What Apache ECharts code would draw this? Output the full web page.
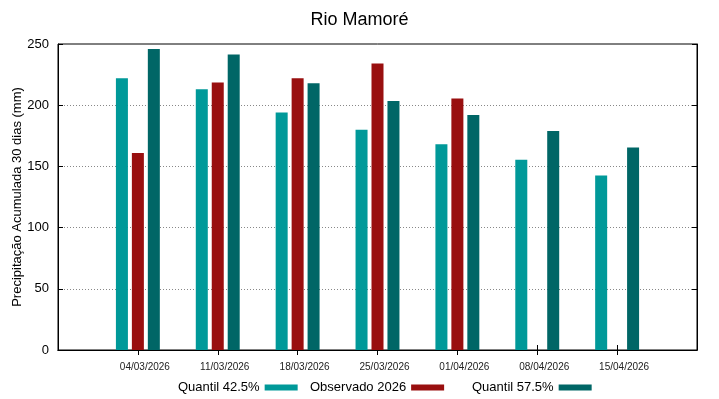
<!DOCTYPE html>
<html>
<head>
<meta charset="utf-8">
<script src="https://cdn.jsdelivr.net/npm/echarts@6/dist/echarts.min.js"></script>
<style>
  html, body { margin: 0; padding: 0; background: #fff; }
  #chart { width: 719px; height: 399px; }
</style>
</head>
<body>
<div id="chart"></div>
<script>
// datas das semanas
const dates = ['04/03/2026', '11/03/2026', '18/03/2026', '25/03/2026', '01/04/2026', '08/04/2026', '15/04/2026']
const q425 = [222, 213, 194, 180, 168, 155.5, 142.5]
const obs2026 = [161, 218.5, 222, 234, 205.5, null, null]
const q575 = [246, 241.5, 218, 203.5, 192, 179, 165.5]
const yTicks = [0, 50, 100, 150, 200, 250]
const yTitle = 'Precipitação Acumulada 30 dias (mm)'

// eixo com uma posição vazia em cada ponta (igual ao gnuplot)
const axisData = [''].concat(dates, [''])
const pad = arr => [null].concat(arr, [null])
const innerTick = (i) => i > 0 && i < axisData.length - 1

const font = 'Liberation Sans, Arial, sans-serif'
const colors = ['#009999', '#990f0f', '#006666']

const myChart = echarts.init(document.getElementById('chart'))

const barStyle = (c) => ({
  type: 'bar',
  barWidth: 12,
  barGap: '33%',
  itemStyle: { color: c },
  emphasis: { disabled: true }
})

const legendItem = (name, left) => ({
  data: [name],
  left: left,
  top: 381,
  align: 'right',
  itemWidth: 33,
  itemHeight: 6,
  icon: 'rect',
  itemGap: 0,
  padding: 0,
  textStyle: { fontFamily: font, fontSize: 13, color: '#000' }
})

const option = {
  animation: false,
  title: {
    text: 'Rio Mamoré',
    left: 'center',
    top: 6,
    textStyle: { fontFamily: font, fontSize: 18, fontWeight: 'normal', color: '#000' }
  },
  legend: [
    legendItem('Quantil 42.5%', 178),
    legendItem('Observado 2026', 310),
    legendItem('Quantil 57.5%', 472)
  ],
  // titulo do eixo y
  graphic: [{
    type: 'text',
    x: 17,
    y: 197,
    rotation: Math.PI / 2,
    style: {
      text: yTitle,
      textAlign: 'center',
      textVerticalAlign: 'middle',
      fontFamily: font,
      fontSize: 13,
      fill: '#000'
    }
  }],
  grid: {
    left: 58, right: 22, top: 44, bottom: 49,
    outerBoundsMode: 'none',
    show: true, borderColor: '#000', borderWidth: 1
  },
  xAxis: [
    {
      type: 'category',
      data: axisData,
      boundaryGap: false,
      axisLine: { lineStyle: { color: '#000' } },
      axisTick: { inside: true, length: 5, lineStyle: { color: '#000' }, interval: innerTick },
      axisLabel: { interval: 0, fontFamily: font, fontSize: 10, color: '#222', margin: 12, padding: [0, 0, 0, 14] }
    },
    {
      type: 'category',
      data: axisData,
      boundaryGap: false,
      position: 'top',
      axisLine: { lineStyle: { color: '#000' } },
      axisTick: { inside: true, length: 5, lineStyle: { color: '#000' }, interval: innerTick },
      axisLabel: { show: false }
    }
  ],
  yAxis: [
    {
      type: 'value',
      min: yTicks[0],
      max: yTicks[yTicks.length - 1],
      interval: 50,
      axisLine: { show: true, lineStyle: { color: '#000' } },
      axisTick: { show: true, inside: true, length: 5, lineStyle: { color: '#000' } },
      axisLabel: { fontFamily: font, fontSize: 13, color: '#000', margin: 9 },
      splitLine: { show: true, showMinLine: false, showMaxLine: false, lineStyle: { type: [1, 2], color: '#888' } }
    },
    {
      type: 'value',
      min: yTicks[0],
      max: yTicks[yTicks.length - 1],
      interval: 50,
      position: 'right',
      axisLine: { show: true, lineStyle: { color: '#000' } },
      axisTick: { show: true, inside: true, length: 5, lineStyle: { color: '#000' } },
      axisLabel: { show: false },
      splitLine: { show: false }
    }
  ],
  series: [
    Object.assign(barStyle(colors[0]), { name: 'Quantil 42.5%', data: pad(q425) }),
    Object.assign(barStyle(colors[1]), { name: 'Observado 2026', data: pad(obs2026) }),
    Object.assign(barStyle(colors[2]), { name: 'Quantil 57.5%', data: pad(q575) })
  ]
}

myChart.setOption(option)
</script>
</body>
</html>
